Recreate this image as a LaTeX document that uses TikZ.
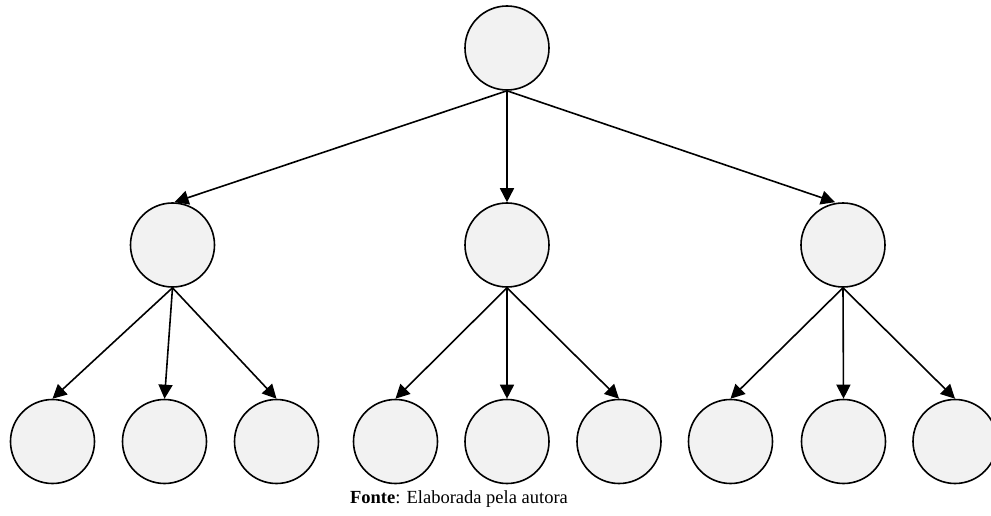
\documentclass[tikz,border=0pt]{standalone}
\usepackage{fontspec}
\setmainfont{Liberation Serif}
\usetikzlibrary{arrows.meta}
\definecolor{nodefill}{HTML}{F2F2F2}
\begin{document}
\begin{tikzpicture}[x=1pt,y=-1pt,
  treenode/.style={circle,draw=black,fill=nodefill,line width=1.6pt,minimum size=84pt,inner sep=0pt},
  edge/.style={line width=1.6pt,-{Triangle[length=14pt,width=14pt]}}]
\clip (0,0) rectangle (991,516);
\useasboundingbox (0,0) rectangle (991,516);
\node[treenode] (r) at (507,48) {};
\node[treenode] (a) at (172.5,245) {};
\node[treenode] (b) at (507,245) {};
\node[treenode] (c) at (843,245) {};
\node[treenode] (a1) at (52.5,441.5) {};
\node[treenode] (a2) at (164.5,441.5) {};
\node[treenode] (a3) at (276.5,441.5) {};
\node[treenode] (b1) at (395.5,441.5) {};
\node[treenode] (b2) at (507,441.5) {};
\node[treenode] (b3) at (619,441.5) {};
\node[treenode] (c1) at (730.5,441.5) {};
\node[treenode] (c2) at (843.5,441.5) {};
\node[treenode] (c3) at (955,441.5) {};
\draw[edge] (r.south) -- ([xshift=2pt]a.north);
\draw[edge] (r.south) -- (b.north);
\draw[edge] (r.south) -- ([xshift=-8pt]c.north);
\foreach \p in {a,b,c}{
  \foreach \k in {1,2,3}{
    \draw[edge] (\p.south) -- (\p\k.north);
  }
}
\node[anchor=base,font=\fontsize{18.5}{22}\selectfont,inner sep=0pt] (cap) at (459,503) {\textbf{Fonte}: Elaborada pela autora};
\end{tikzpicture}
\end{document}
